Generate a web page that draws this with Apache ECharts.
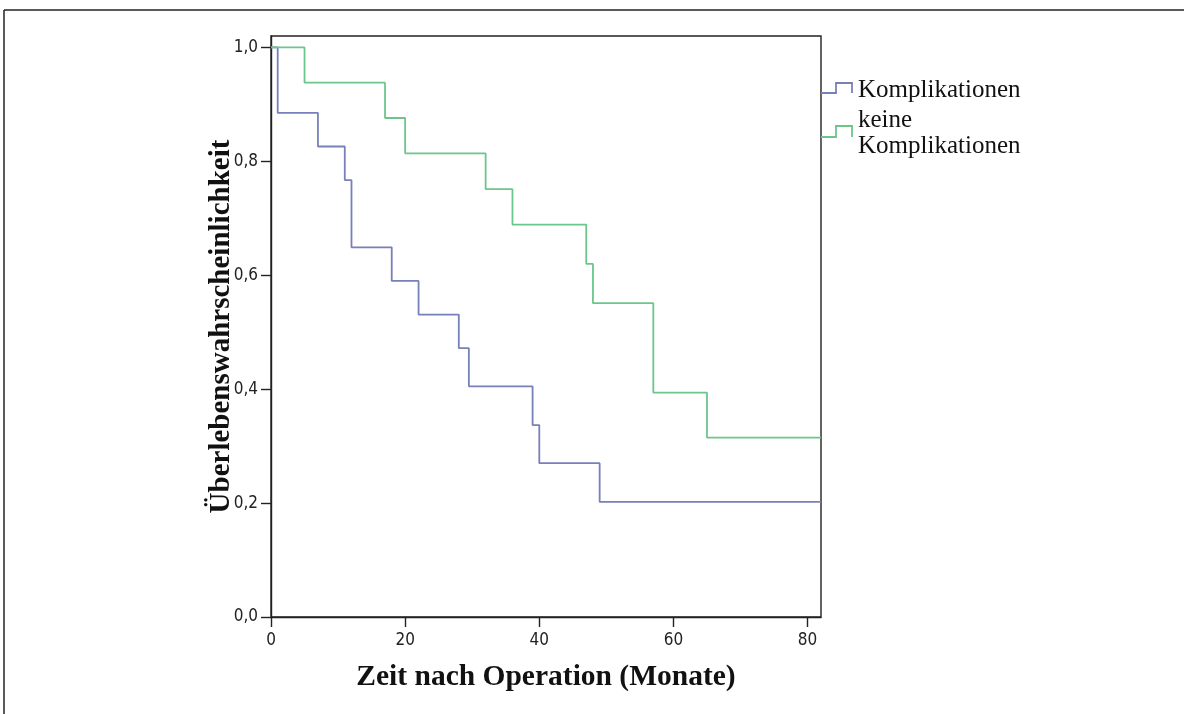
<!DOCTYPE html>
<html>
<head>
<meta charset="utf-8">
<script src="https://cdn.jsdelivr.net/npm/echarts@6/dist/echarts.min.js"></script>
<style>
html,body{margin:0;padding:0;background:#fff;}
#chart{width:1184px;height:714px;}
</style>
</head>
<body>
<div id="chart"></div>
<script>
// Data (Kaplan-Meier step curves)
const seriesNames = ['Komplikationen', 'keine\nKomplikationen'];
const komplTimes = [0, 1, 7, 11, 12, 18, 22, 28, 29.5, 39, 40, 49, 82];
const komplSurv  = [1.0, 0.885, 0.826, 0.767, 0.649, 0.590, 0.531, 0.472, 0.405, 0.337, 0.270, 0.202, 0.202];
const keineTimes = [0, 5, 17, 20, 32, 36, 47, 48, 57, 65, 82];
const keineSurv  = [1.0, 0.938, 0.876, 0.814, 0.751, 0.689, 0.620, 0.551, 0.394, 0.315, 0.315];
const xTicks = [0, 20, 40, 60, 80];
const yTicks = [0, 0.2, 0.4, 0.6, 0.8, 1.0];
const xTitle = 'Zeit nach Operation (Monate)';
const yTitle = 'Überlebenswahrscheinlichkeit';

const blue = '#7880bb';
const green = '#6cc68c';
const zip = (a, b) => a.map((v, i) => [v, b[i]]);

const chart = echarts.init(document.getElementById('chart'));
const tickFont = {fontFamily: '"Liberation Sans Narrow", "DejaVu Sans Condensed", sans-serif', fontSize: 17, color: '#222'};
const titleFont = '"Liberation Serif", "Times New Roman", serif';

chart.setOption({
  animation: false,
  backgroundColor: '#fff',
  grid: {left: 271, right: 363, top: 36, bottom: 97, show: true, borderColor: '#222', borderWidth: 1.4, backgroundColor: 'transparent'},
  xAxis: {
    type: 'value', min: 0, max: 82,
    name: xTitle, nameLocation: 'middle', nameGap: 45, nameMoveOverlap: false,
    nameTextStyle: {fontFamily: titleFont, fontWeight: 'bold', fontSize: 29.5, color: '#111'},
    axisLine: {show: true, lineStyle: {color: '#222', width: 1.4}},
    axisTick: {show: true, length: 10, customValues: xTicks, lineStyle: {color: '#222', width: 1.4}},
    axisLabel: Object.assign({customValues: xTicks, margin: 15, formatter: v => String(v)}, tickFont),
    splitLine: {show: false}
  },
  yAxis: {
    type: 'value', min: 0, max: 1.02,
    name: yTitle, nameLocation: 'middle', nameGap: 35, nameRotate: 90, nameMoveOverlap: false,
    nameTextStyle: {fontFamily: titleFont, fontWeight: 'bold', fontSize: 29, color: '#111'},
    axisLine: {show: true, lineStyle: {color: '#222', width: 1.4}},
    axisTick: {show: true, length: 10, customValues: yTicks, lineStyle: {color: '#222', width: 1.4}},
    axisLabel: Object.assign({customValues: yTicks, margin: 13, formatter: v => v.toFixed(1).replace('.', ',')}, tickFont),
    splitLine: {show: false}
  },
  series: [
    {name: seriesNames[0], type: 'line', step: 'end', showSymbol: false, data: zip(komplTimes, komplSurv),
     lineStyle: {color: blue, width: 1.8}, itemStyle: {color: blue}},
    {name: seriesNames[1], type: 'line', step: 'end', showSymbol: false, data: zip(keineTimes, keineSurv),
     lineStyle: {color: green, width: 1.8}, itemStyle: {color: green}}
  ],
  graphic: [
    {type: 'polyline', shape: {points: [[4, 10], [1184, 10]]}, style: {stroke: '#222', lineWidth: 1.5, fill: null}},
    {type: 'polyline', shape: {points: [[4, 10], [4, 714]]}, style: {stroke: '#222', lineWidth: 1.5, fill: null}},
    {type: 'polyline', shape: {points: [[821, 93], [836, 93], [836, 83], [852, 83], [852, 93]]}, style: {stroke: blue, lineWidth: 1.8, fill: null}},
    {type: 'polyline', shape: {points: [[821, 137], [836, 137], [836, 126], [852, 126], [852, 137]]}, style: {stroke: green, lineWidth: 1.8, fill: null}},
    {type: 'text', x: 858, y: 90, style: {text: 'Komplikationen', font: '25px "Liberation Serif", serif', fill: '#111', verticalAlign: 'middle'}},
    {type: 'text', x: 858, y: 120, style: {text: 'keine', font: '25px "Liberation Serif", serif', fill: '#111', verticalAlign: 'middle'}},
    {type: 'text', x: 858, y: 146, style: {text: 'Komplikationen', font: '25px "Liberation Serif", serif', fill: '#111', verticalAlign: 'middle'}}
  ]
});
</script>
</body>
</html>
